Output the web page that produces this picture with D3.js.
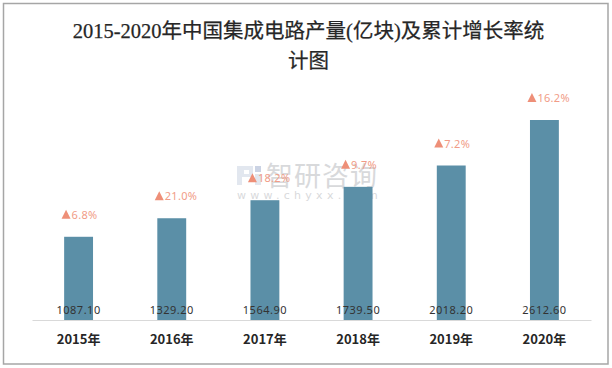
<!DOCTYPE html>
<html><head><meta charset="utf-8">
<script src="https://cdn.jsdelivr.net/npm/d3@7"></script>
<style>
html,body{margin:0;padding:0;background:#fff;}
svg{display:block;}
</style></head>
<body>
<svg id="c" width="612" height="368"></svg>
<script>
const years = ["2015年","2016年","2017年","2018年","2019年","2020年"];
const output = [1087.10, 1329.20, 1564.90, 1739.50, 2018.20, 2612.60];
const growth = [6.8, 21.0, 18.2, 9.7, 7.2, 16.2];
const titleLines = ["2015-2020年中国集成电路产量(亿块)及累计增长率统", "计图"];

const svg = d3.select("#c");
// outer frame
svg.append("rect").attr("x",3.5).attr("y",3.5).attr("width",604.5).attr("height",360.5)
  .attr("fill","#fff").attr("stroke","#a6a6a6").attr("stroke-width",1.5);

// title
const t = svg.append("text").attr("text-anchor","middle")
  .attr("font-family","'Liberation Serif','DejaVu Serif','Noto Sans CJK SC',serif")
  .attr("font-size",20.5).attr("font-weight","normal").attr("fill","#262626")
  .attr("stroke","#262626").attr("stroke-width",0.25);
titleLines.forEach((s,i)=>{
  t.append("tspan").attr("x",308.5).attr("y",38+i*30).text(s);
});

const x = d3.scaleBand().domain(years).range([32,591]).paddingInner(0.69).paddingOuter(0.345);
const y = d3.scaleLinear().domain([0,3000]).range([320,320-200*3000/2612.6]);

// watermark
const wm = svg.append("g").attr("opacity",0.4);
wm.append("path").attr("d","M237,166h16v11h-11v8h-5z M244,170h5v4h-5z").attr("fill","#b9c4d8").attr("fill-rule","evenodd");
wm.append("rect").attr("x",255).attr("y",166).attr("width",6).attr("height",6).attr("fill","#7f93bd");
wm.append("rect").attr("x",255).attr("y",174).attr("width",6).attr("height",11).attr("fill","#b9c4d8");
wm.append("text").attr("x",266).attr("y",186).attr("font-family","'Noto Sans CJK SC',sans-serif")
  .attr("font-size",27).attr("letter-spacing",1).attr("fill","#a0a2a8").text("智研咨询");
wm.append("text").attr("x",237).attr("y",199).attr("font-family","'DejaVu Sans',sans-serif")
  .attr("font-size",11).attr("letter-spacing",4.3).attr("fill","#a0a2a8").text("www.chyxx.com");

// bars
svg.append("g").selectAll("rect").data(output).join("rect")
  .attr("x",(d,i)=>x(years[i])).attr("width",x.bandwidth())
  .attr("y",d=>y(d)).attr("height",d=>y(0)-y(d))
  .attr("fill","#5b8fa7");

// baseline axis
const ax = svg.append("g").attr("transform","translate(0,320)")
  .call(d3.axisBottom(x).tickSize(0).tickPadding(15));
ax.select(".domain").attr("stroke","#d9d9d9").attr("stroke-width",1.2);
ax.selectAll("text").attr("font-family","'Noto Sans CJK SC',sans-serif")
  .attr("font-size",13).attr("font-weight","bold").attr("fill","#262626");

// value labels
svg.append("g").selectAll("text").data(output).join("text")
  .attr("x",(d,i)=>x(years[i])+x.bandwidth()/2).attr("y",314)
  .attr("text-anchor","middle").attr("font-family","'Noto Sans',sans-serif")
  .attr("font-size",11).attr("letter-spacing",0.5).attr("fill","#333")
  .text(d=>d.toFixed(2));

// growth labels
const g = svg.append("g").selectAll("g").data(growth).join("g")
  .attr("transform",(d,i)=>`translate(${x(years[i])+x.bandwidth()/2+1},${y(output[i])-18})`);
g.append("path").attr("d","M-18,0 L-13.5,-9 L-9,0 Z").attr("fill","#ee8f78");
g.append("text").attr("x",-8).attr("y",0).attr("font-family","'Noto Sans',sans-serif")
  .attr("font-size",11).attr("letter-spacing",0.3).attr("fill","#f19c87")
  .text(d=>d.toFixed(1)+"%");
</script>
</body></html>
